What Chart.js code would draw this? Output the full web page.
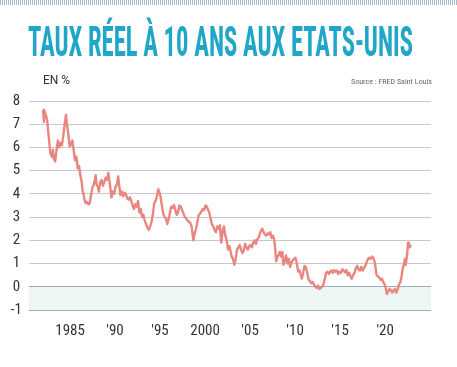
<!DOCTYPE html>
<html>
<head>
<meta charset="utf-8">
<script src="https://cdn.jsdelivr.net/npm/chart.js@4"></script>
<style>
    html, body { margin: 0; padding: 0; background: #fff; }
    #wrap { position: relative; width: 457px; height: 367px; overflow: hidden; }
    #dots {
        position: absolute; left: 0; top: 0; width: 457px; height: 5px;
        background: repeating-linear-gradient(90deg, #a9bccb 0 1px, #fff 1px 2px);
    }
    #title {
        position: absolute; left: 28px; top: 17px; white-space: nowrap;
        font-family: 'Roboto Condensed', 'Liberation Sans Narrow', 'DejaVu Sans Condensed', Roboto, sans-serif;
        font-weight: bold; font-size: 43px; line-height: 48px; color: #1fa6c8;
        transform-origin: 0 0;
    }
    #unit {
        position: absolute; left: 43px; top: 73px;
        font-family: Roboto, sans-serif; font-size: 12px; color: #333;
    }
    #source {
        position: absolute; right: 25px; top: 77px;
        font-family: 'Roboto Condensed', 'Liberation Sans Narrow', Roboto, sans-serif;
        font-size: 8px; color: #666;
    }
    canvas { position: absolute; left: 0; top: 0; }
</style>
</head>
<body>
<div id="wrap">
    <canvas id="chart" width="457" height="367"></canvas>
    <div id="dots"></div>
    <div id="title">TAUX RÉEL À 10 ANS AUX ETATS-UNIS</div>
    <div id="unit">EN %</div>
    <div id="source">Source : FRED Saint Louis</div>
</div>
<script>
// dates (années décimales) et taux réel à 10 ans (%)
const years = [
    1982.0, 1982.1, 1982.2, 1982.3, 1982.45, 1982.6, 1982.75, 1982.85, 1983.0, 1983.1,
    1983.2, 1983.35, 1983.5, 1983.65, 1983.8, 1983.95, 1984.1, 1984.25, 1984.4, 1984.55,
    1984.65, 1984.8, 1984.95, 1985.1, 1985.25, 1985.4, 1985.55, 1985.7, 1985.85, 1986.0,
    1986.15, 1986.3, 1986.4, 1986.5, 1986.6, 1986.75, 1986.9, 1987.05, 1987.2, 1987.35,
    1987.5, 1987.6, 1987.75, 1987.85, 1987.95, 1988.1, 1988.2, 1988.35, 1988.5, 1988.65,
    1988.8, 1988.95, 1989.1, 1989.25, 1989.4, 1989.5, 1989.6, 1989.75, 1989.9, 1990.05,
    1990.2, 1990.35, 1990.45, 1990.6, 1990.75, 1990.9, 1991.05, 1991.2, 1991.35, 1991.5,
    1991.65, 1991.8, 1991.95, 1992.1, 1992.25, 1992.4, 1992.55, 1992.7, 1992.85, 1993.0,
    1993.15, 1993.3, 1993.45, 1993.6, 1993.75, 1993.9, 1994.05, 1994.2, 1994.35, 1994.5,
    1994.65, 1994.8, 1994.9, 1995.05, 1995.2, 1995.35, 1995.5, 1995.65, 1995.8, 1995.95,
    1996.1, 1996.25, 1996.4, 1996.55, 1996.7, 1996.85, 1997.0, 1997.15, 1997.3, 1997.45,
    1997.6, 1997.75, 1997.9, 1998.05, 1998.2, 1998.35, 1998.5, 1998.6, 1998.7, 1998.85,
    1999.0, 1999.15, 1999.3, 1999.45, 1999.6, 1999.75, 1999.9, 2000.05, 2000.2, 2000.35,
    2000.5, 2000.6, 2000.75, 2000.9, 2001.05, 2001.2, 2001.35, 2001.5, 2001.65, 2001.8,
    2001.95, 2002.1, 2002.25, 2002.4, 2002.55, 2002.7, 2002.85, 2002.95, 2003.1, 2003.25,
    2003.4, 2003.55, 2003.7, 2003.85, 2004.0, 2004.15, 2004.3, 2004.45, 2004.6, 2004.75,
    2004.9, 2005.05, 2005.2, 2005.35, 2005.5, 2005.65, 2005.8, 2005.95, 2006.1, 2006.25,
    2006.35, 2006.5, 2006.65, 2006.8, 2006.95, 2007.1, 2007.25, 2007.4, 2007.55, 2007.7,
    2007.8, 2007.9, 2008.05, 2008.2, 2008.3, 2008.45, 2008.6, 2008.7, 2008.85, 2009.0,
    2009.15, 2009.3, 2009.45, 2009.6, 2009.75, 2009.9, 2010.05, 2010.2, 2010.35, 2010.5,
    2010.65, 2010.75, 2010.9, 2011.05, 2011.2, 2011.35, 2011.5, 2011.65, 2011.8, 2011.95,
    2012.1, 2012.25, 2012.4, 2012.55, 2012.7, 2012.85, 2013.0, 2013.15, 2013.3, 2013.45,
    2013.6, 2013.75, 2013.9, 2014.05, 2014.2, 2014.35, 2014.5, 2014.65, 2014.8, 2014.95,
    2015.1, 2015.25, 2015.4, 2015.55, 2015.7, 2015.85, 2016.0, 2016.15, 2016.3, 2016.45,
    2016.6, 2016.75, 2016.9, 2017.05, 2017.2, 2017.35, 2017.5, 2017.65, 2017.8, 2017.95,
    2018.1, 2018.25, 2018.4, 2018.55, 2018.7, 2018.85, 2018.95, 2019.05, 2019.2, 2019.35,
    2019.5, 2019.65, 2019.8, 2019.95, 2020.1, 2020.2, 2020.35, 2020.5, 2020.65, 2020.8,
    2020.95, 2021.1, 2021.25, 2021.4, 2021.55, 2021.7, 2021.85, 2021.95, 2022.1, 2022.2,
    2022.3, 2022.45, 2022.55, 2022.65, 2022.75, 2022.85
];
const rates = [
    7.63, 7.1, 7.55, 7.4, 7.2, 6.6, 6.0, 5.7, 5.6, 5.9,
    5.5, 5.4, 5.9, 6.3, 6.0, 6.2, 6.1, 6.5, 7.0, 7.4,
    7.0, 6.6, 6.05, 6.1, 6.3, 5.9, 5.45, 5.6, 5.1, 5.2,
    4.8, 4.5, 4.1, 4.0, 3.75, 3.6, 3.65, 3.55, 3.6, 4.0,
    4.3, 4.35, 4.6, 4.8, 4.4, 4.3, 4.1, 4.5, 4.6, 4.35,
    4.5, 4.7, 4.6, 4.9, 4.5, 4.2, 3.85, 4.1, 4.0, 4.3,
    4.4, 4.75, 4.4, 3.95, 4.1, 3.9, 4.05, 4.0, 3.8, 3.75,
    3.85, 3.7, 3.5, 3.35, 3.55, 3.45, 3.7, 3.2, 3.35, 3.0,
    3.1, 2.85, 2.7, 2.55, 2.45, 2.6, 2.8, 3.1, 3.6, 3.7,
    3.9, 4.2, 4.1, 3.9, 3.5, 3.15, 3.0, 2.95, 2.7, 2.9,
    3.2, 3.45, 3.4, 3.52, 3.3, 3.1, 3.2, 3.5, 3.45, 3.3,
    3.15, 3.0, 2.95, 2.85, 2.8, 2.75, 2.6, 2.3, 2.0, 2.3,
    2.5, 2.8, 3.1, 3.15, 3.25, 3.35, 3.3, 3.5, 3.45, 3.3,
    3.15, 2.95, 2.7, 2.6, 2.45, 2.35, 2.6, 2.5, 2.65, 1.9,
    2.4, 2.6, 2.2, 2.0, 1.6, 1.75, 1.5, 1.3, 1.2, 0.95,
    1.2, 1.6, 1.7, 1.8, 1.6, 1.45, 1.55, 1.85, 1.7, 1.6,
    1.75, 1.8, 1.7, 1.9, 2.0, 1.85, 2.05, 2.1, 2.3, 2.45,
    2.5, 2.35, 2.25, 2.2, 2.3, 2.25, 2.35, 2.1, 2.2, 2.0,
    1.6, 1.1, 1.3, 1.4, 1.5, 1.3, 1.5, 0.95, 1.1, 1.35,
    1.0, 1.2, 0.85, 1.05, 1.15, 1.2, 1.25, 1.0, 0.65, 0.7,
    0.5, 0.35, 0.6, 0.9, 0.85, 0.6, 0.3, 0.25, 0.15, 0.2,
    0.1, 0.0, -0.05, 0.05, -0.1, -0.05, 0.0, 0.1, 0.35, 0.6,
    0.65, 0.55, 0.65, 0.7, 0.6, 0.72, 0.65, 0.7, 0.55, 0.65,
    0.6, 0.75, 0.7, 0.62, 0.72, 0.5, 0.6, 0.45, 0.35, 0.5,
    0.6, 0.8, 0.9, 0.75, 0.7, 0.85, 0.7, 0.8, 0.9, 1.05,
    1.2, 1.25, 1.2, 1.3, 1.25, 1.05, 0.8, 0.5, 0.45, 0.4,
    0.3, 0.35, 0.2, 0.1, -0.1, -0.3, -0.2, -0.1, -0.15, -0.25,
    -0.15, -0.1, -0.25, -0.1, 0.1, 0.2, 0.5, 0.75, 1.0, 1.2,
    0.95, 1.4, 1.9, 1.85, 1.7, 1.8
];

const tickYears = [1985, 1990, 1995, 2000, 2005, 2010, 2015, 2020];
const tickLabels = ['1985', "'90", "'95", '2000', "'05", "'10", "'15", "'20"];
const yTicks = [-1, 0, 1, 2, 3, 4, 5, 6, 7, 8];

const LINE_COLOR = '#ea8680';
const GRID_COLOR = '#c9c9c9';
const BAND_COLOR = '#edf6f5';
const narrowFont = "'Roboto Condensed', 'Liberation Sans Narrow', 'DejaVu Sans Condensed', Roboto, sans-serif";

// ajuste le titre à la largeur du visuel
const title = document.getElementById('title');
title.style.transform = `scaleX(${385 / title.offsetWidth})`;

// bande bleutée entre 0 et -1
const negativeBand = {
    id: 'negativeBand',
    beforeDraw(chart) {
        const { ctx, chartArea, scales } = chart;
        const y0 = scales.y.getPixelForValue(0);
        const y1 = scales.y.getPixelForValue(-1);
        ctx.save();
        ctx.fillStyle = BAND_COLOR;
        ctx.fillRect(chartArea.left, y0, chartArea.right - chartArea.left, y1 - y0);
        ctx.restore();
    }
};

new Chart(document.getElementById('chart'), {
    type: 'line',
    data: {
        datasets: [{
            data: years.map((x, i) => ({ x, y: rates[i] })),
            borderColor: LINE_COLOR,
            borderWidth: 2.4,
            borderJoinStyle: 'round',
            pointRadius: 0,
            tension: 0,
            fill: false
        }]
    },
    options: {
        responsive: false,
        animation: false,
        layout: { padding: { top: 101, right: 26, bottom: 18, left: 0 } },
        plugins: {
            legend: { display: false },
            tooltip: { enabled: false }
        },
        scales: {
            x: {
                type: 'linear',
                min: 1980.44,
                max: 2025.1,
                afterBuildTicks: (scale) => {
                    scale.ticks = tickYears.map(v => ({ value: v }));
                },
                afterFit: (scale) => { scale.height = 39; },
                grid: { display: false, drawTicks: false },
                border: { display: false },
                ticks: {
                    autoSkip: false,
                    maxRotation: 0,
                    padding: 12,
                    color: '#333',
                    font: { family: narrowFont, size: 15 },
                    callback: (v) => tickLabels[tickYears.indexOf(v)]
                }
            },
            y: {
                min: -1,
                max: 8,
                afterBuildTicks: (scale) => {
                    scale.ticks = yTicks.map(v => ({ value: v }));
                },
                afterFit: (scale) => { scale.width = 29; },
                grid: {
                    drawTicks: false,
                    color: (c) => (c.tick.value === 0 || c.tick.value === -1) ? '#a3adad' : GRID_COLOR
                },
                border: { display: false },
                ticks: {
                    crossAlign: 'center',
                    padding: 7,
                    color: '#333',
                    font: { family: narrowFont, size: 15 }
                }
            }
        }
    },
    plugins: [negativeBand]
});
</script>
</body>
</html>
